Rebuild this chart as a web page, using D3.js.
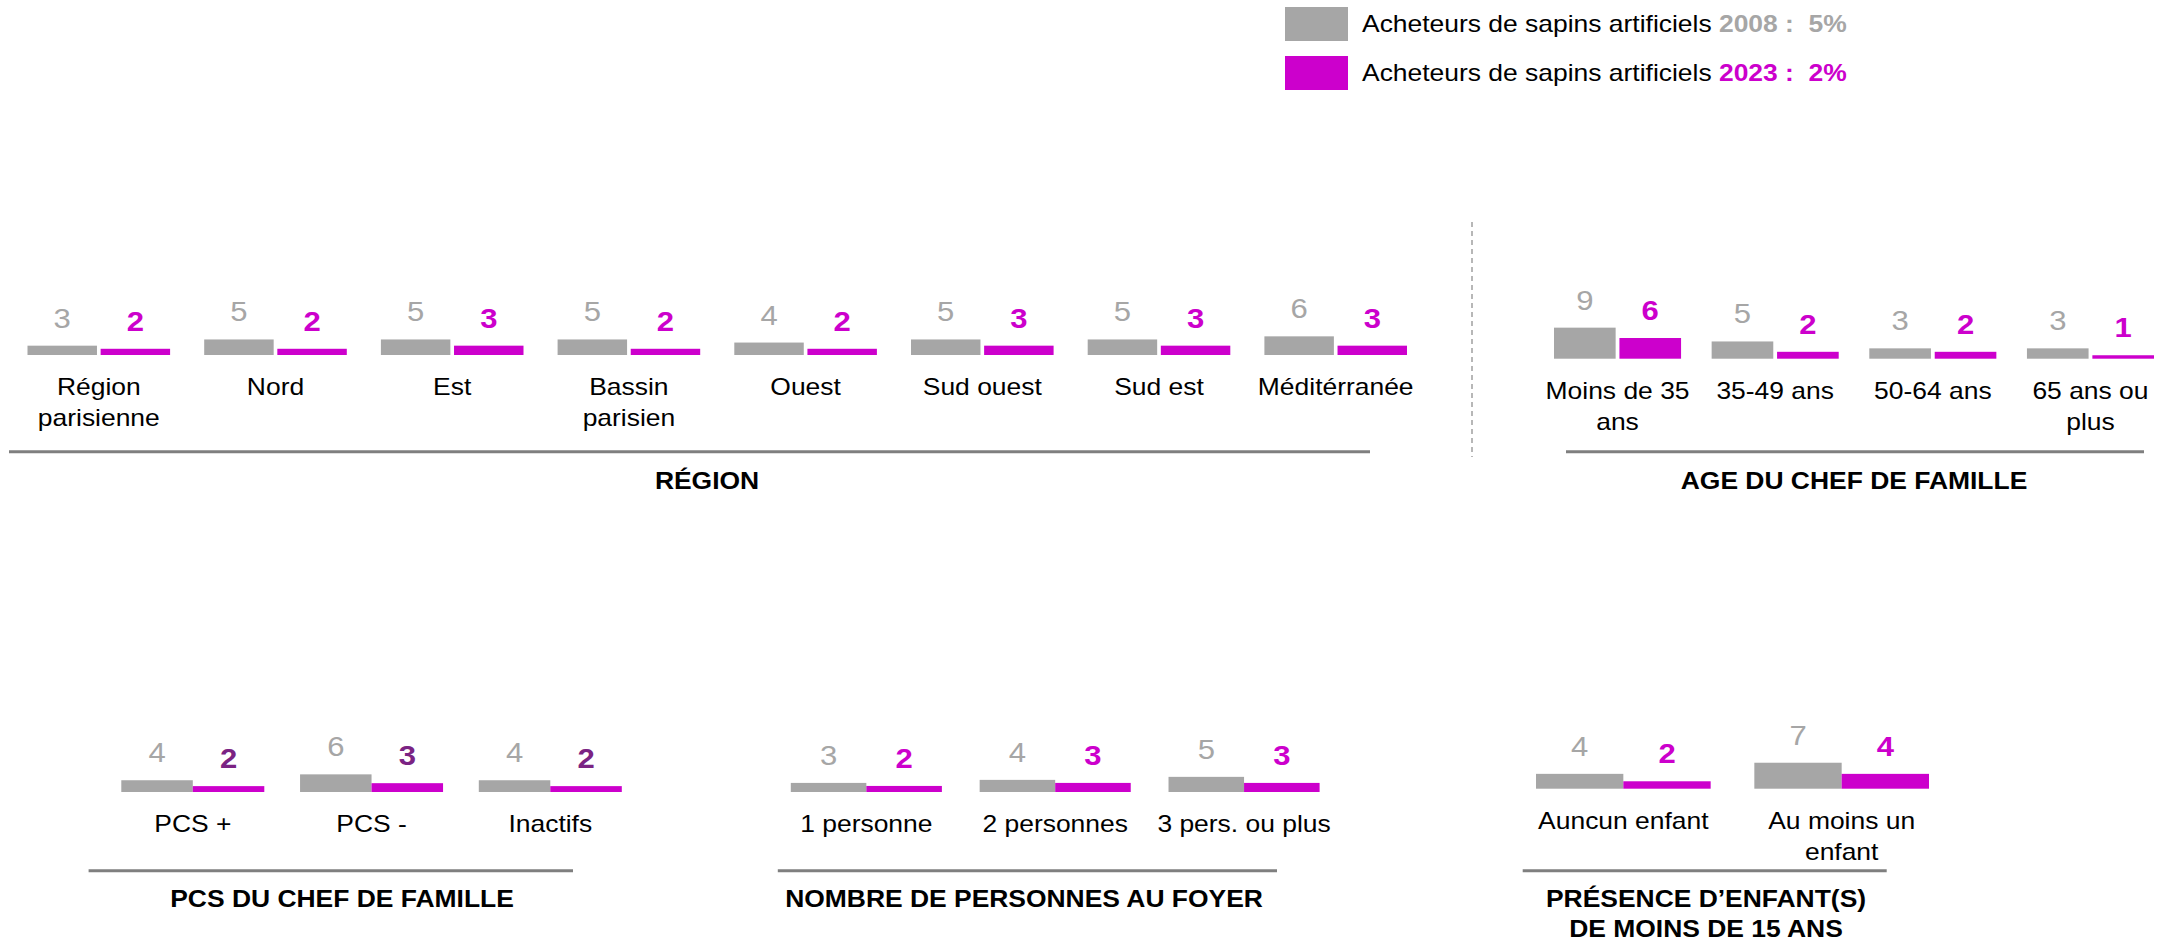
<!DOCTYPE html>
<html>
<head>
<meta charset="utf-8">
<script src="https://d3js.org/d3.v7.min.js"></script>
<title>Acheteurs de sapins artificiels</title>
<style>
  body { margin: 0; background: #fff; }
  text { font-family: "Liberation Sans", Arial, sans-serif; white-space: pre; }
</style>
</head>
<body>
<div id="chart"></div>
<script>
// données (en %)
var legendYears = ["2008", "2023"];
var legendTotals = [5, 2];

var regionCats = ["Région\nparisienne", "Nord", "Est", "Bassin\nparisien", "Ouest", "Sud ouest", "Sud est", "Méditérranée"];
var region2008 = [3, 5, 5, 5, 4, 5, 5, 6];
var region2023 = [2, 2, 3, 2, 2, 3, 3, 3];

var ageCats = ["Moins de 35\nans", "35-49 ans", "50-64 ans", "65 ans ou\nplus"];
var age2008 = [9, 5, 3, 3];
var age2023 = [6, 2, 2, 1];

var pcsCats = ["PCS +", "PCS -", "Inactifs"];
var pcs2008 = [4, 6, 4];
var pcs2023 = [2, 3, 2];

var foyerCats = ["1 personne", "2 personnes", "3 pers. ou plus"];
var foyer2008 = [3, 4, 5];
var foyer2023 = [2, 3, 3];

var enfantCats = ["Auncun enfant", "Au moins un\nenfant"];
var enfant2008 = [4, 7];
var enfant2023 = [2, 4];

var GRAY = "#a6a6a6", MAGENTA = "#cc00cc", PURPLE = "#7b2383", RULE = "#7f7f7f";
var STRETCH = 1.15; // le texte de l'original est un peu étiré en largeur

var svg = d3.select("#chart").append("svg")
  .attr("width", 2181)
  .attr("height", 943);

function txt(x, y, str, size, color, weight, anchor) {
  return svg.append("text")
    .attr("transform", "translate(" + x + "," + y + ") scale(" + STRETCH + ",1)")
    .attr("text-anchor", anchor || "middle")
    .style("font-size", size + "px")
    .style("font-weight", weight || "normal")
    .attr("fill", color || "#000")
    .text(str);
}

function panel(p) {
  var x = d3.scaleBand().domain(p.cats).range([p.x0, p.x1]).paddingInner(p.pad);
  var xs = d3.scaleBand().domain(legendYears).range([0, x.bandwidth()]).paddingInner(p.barPad);
  var y = d3.scaleLinear().domain([0, 10]).range([p.base, p.base - p.unit * 10]);

  var series = [p.v2008, p.v2023];
  var fills = [GRAY, MAGENTA];
  var labelColors = [GRAY, p.labelColor || MAGENTA];

  series.forEach(function (vals, s) {
    var yr = legendYears[s];
    svg.append("g").selectAll("rect")
      .data(vals)
      .join("rect")
      .attr("x", function (d, i) { return x(p.cats[i]) + xs(yr); })
      .attr("y", function (d) { return y(d); })
      .attr("width", xs.bandwidth())
      .attr("height", function (d) { return y(0) - y(d); })
      .attr("fill", fills[s]);

    vals.forEach(function (d, i) {
      txt(x(p.cats[i]) + xs(yr) + xs.bandwidth() / 2, y(d) - 18, d, 27,
        labelColors[s], s === 1 ? "bold" : "normal");
    });
  });

  // libellés des catégories
  p.cats.forEach(function (c) {
    c.split("\n").forEach(function (line, k) {
      txt(x(c) + x.bandwidth() / 2, p.base + 40 + k * 31, line, 23);
    });
  });

  svg.append("line")
    .attr("x1", p.rule[0]).attr("x2", p.rule[1])
    .attr("y1", p.ruleY).attr("y2", p.ruleY)
    .attr("stroke", RULE)
    .attr("stroke-width", 3);

  p.title.forEach(function (line, k) {
    txt(p.titleX, p.titleY + k * 30, line, 23, "#000", "bold");
  });
}

// légende
legendYears.forEach(function (yr, i) {
  var top = i === 0 ? 7 : 56;
  svg.append("rect")
    .attr("x", 1285).attr("y", top)
    .attr("width", 63).attr("height", 34)
    .attr("fill", i === 0 ? GRAY : MAGENTA);
  var t = txt(1362, top + 25, "Acheteurs de sapins artificiels ", 23, "#000", "normal", "start");
  t.append("tspan")
    .style("font-weight", "bold")
    .attr("fill", i === 0 ? GRAY : MAGENTA)
    .text(yr + " :  " + legendTotals[i] + "%");
});

// séparateur pointillé
svg.append("line")
  .attr("x1", 1472).attr("x2", 1472)
  .attr("y1", 222).attr("y2", 457)
  .attr("stroke", "#a0a0a0")
  .attr("stroke-width", 1.5)
  .attr("stroke-dasharray", "5,4");

panel({
  cats: regionCats, v2008: region2008, v2023: region2023,
  x0: 27.5, x1: 1407, pad: 0.193, barPad: 0.05, base: 355, unit: 3.11,
  rule: [9, 1370], ruleY: 451.7, title: ["RÉGION"], titleX: 707, titleY: 489
});

panel({
  cats: ageCats, v2008: age2008, v2023: age2023,
  x0: 1554, x1: 2154, pad: 0.194, barPad: 0.058, base: 358.7, unit: 3.45,
  rule: [1566, 2144], ruleY: 451.7, title: ["AGE DU CHEF DE FAMILLE"], titleX: 1854, titleY: 489
});

panel({
  cats: pcsCats, v2008: pcs2008, v2023: pcs2023, labelColor: PURPLE,
  x0: 121.3, x1: 621.8, pad: 0.2, barPad: 0, base: 792, unit: 2.94,
  rule: [88.6, 573], ruleY: 870.7, title: ["PCS DU CHEF DE FAMILLE"], titleX: 342, titleY: 906.7
});

panel({
  cats: foyerCats, v2008: foyer2008, v2023: foyer2023,
  x0: 790.8, x1: 1319.6, pad: 0.2, barPad: 0, base: 792, unit: 3.03,
  rule: [777.8, 1277], ruleY: 870.7, title: ["NOMBRE DE PERSONNES AU FOYER"], titleX: 1024, titleY: 906.7
});

panel({
  cats: enfantCats, v2008: enfant2008, v2023: enfant2023,
  x0: 1536, x1: 1929, pad: 0.2, barPad: 0, base: 788.7, unit: 3.71,
  rule: [1522.7, 1886.7], ruleY: 870.7,
  title: ["PRÉSENCE D’ENFANT(S)", "DE MOINS DE 15 ANS"], titleX: 1706, titleY: 906.7
});
</script>
</body>
</html>
